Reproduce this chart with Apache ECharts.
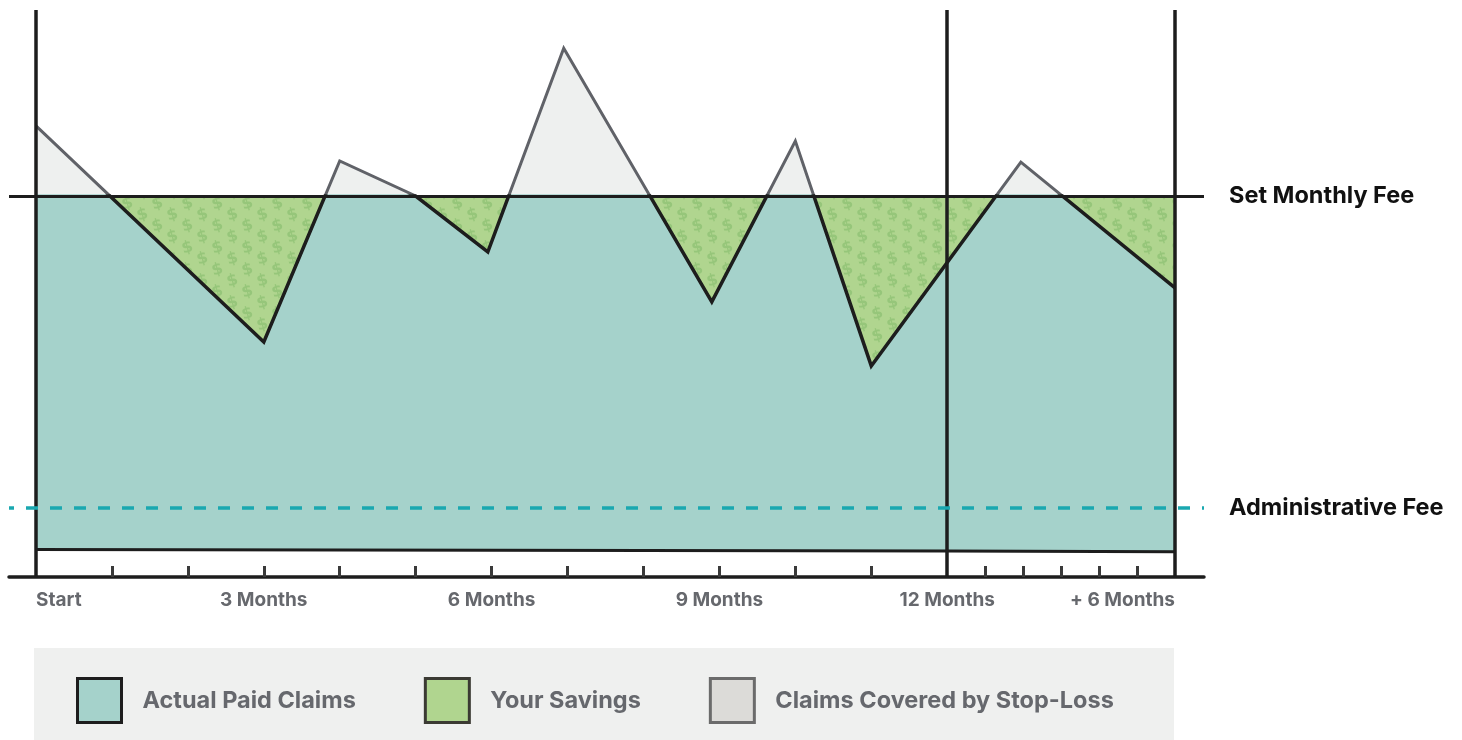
<!DOCTYPE html>
<html>
<head>
  <meta charset="utf-8">
  <title>Level funding: claims vs. set monthly fee</title>
  <script src="https://cdn.jsdelivr.net/npm/echarts@6/dist/echarts.min.js"></script>
  <style>
    html, body { margin: 0; padding: 0; background: #fff; }
    #chart { width: 1462px; height: 740px; }
  </style>
</head>
<body>
<div id="chart"></div>
<script>
  // x is a timeline position: 0..12 = the plan year (1 unit = 1 month),
  // 12..15 = the 6-month run-out, drawn at half scale (1 unit = 2 months)
  var claimX = [0, 3, 4, 5, 5.95, 6.95, 8.9, 10, 11, 12.97, 15];
  var claimY = [118.4, 61.7, 109.2, 100, 85.3, 138.8, 72.2, 114.4, 55.4, 108.9, 75.9];

  var monthlyFee = 100;
  var adminFee = 18.1;

  // bottom edge of the paid-claims block
  var baseX = [0, 12, 15];
  var baseY = [7.2, 6.8, 6.6];

  var dividers = [0, 12, 15];
  var tickValues = [1, 2, 3, 4, 5, 6, 7, 8, 9, 10, 11, 12.5, 13, 13.5, 14, 14.5];
  var labelValues = [0, 3, 6, 9, 12, 15];
  var labelText = ['Start', '3 Months', '6 Months', '9 Months', '12 Months', '+ 6 Months'];

  var legendNames = ['Actual Paid Claims', 'Your Savings', 'Claims Covered by Stop-Loss'];

  var FONT = 'Inter';
  var INK = '#1d1d1d';

  function pairs(xs, ys) {
    return xs.map(function (x, i) { return [x, ys[i]]; });
  }

  // green fill with little dollar signs
  function dollarTile() {
    var c = document.createElement('canvas');
    c.width = 30; c.height = 22;
    var g = c.getContext('2d');
    g.fillStyle = '#b0d58f';
    g.fillRect(0, 0, 30, 22);
    g.fillStyle = '#96c67a';
    g.font = 'bold 16px "DejaVu Sans"';
    g.textAlign = 'center';
    g.textBaseline = 'middle';
    [[7.5, 6], [22.5, 17], [22.5, -5], [7.5, 28]].forEach(function (p) {
      g.save();
      g.translate(p[0], p[1]);
      g.rotate(-0.28);
      g.fillText('$', 0, 0);
      g.restore();
    });
    return c;
  }

  var chart = echarts.init(document.getElementById('chart'));

  // grid 0 spans the full drawing incl. the overhanging guide lines (x 9..1204)
  // grid 1 is the box between Start and +6 Months, topped by the monthly fee,
  // so anything drawn in it is clipped at the fee line
  var pxPerUnit = (1175 - 36) / 15;
  var xMin = -(36 - 9) / pxPerUnit;
  var xMax = 15 + (1204 - 1175) / pxPerUnit;

  var option = {
    animation: false,
    graphic: [{
      type: 'rect', left: 34, top: 648, silent: true, z: 0,
      shape: { width: 1140, height: 92 },
      style: { fill: '#eff0ef' }
    }],
    grid: [
      { left: 9, right: 1462 - 1204, top: 10, bottom: 163 },
      { left: 36, right: 1462 - 1175, top: 196, bottom: 163 }
    ],
    xAxis: [{
      type: 'value', gridIndex: 0, min: xMin, max: xMax, z: 10,
      splitLine: { show: false },
      axisLine: { show: true, lineStyle: { color: INK, width: 3.5 } },
      axisTick: {
        show: true, inside: true, length: 11, customValues: tickValues,
        lineStyle: { color: '#3a3a3a', width: 3 }
      },
      axisLabel: {
        customValues: labelValues, margin: 14,
        alignMinLabel: 'left', alignMaxLabel: 'right',
        color: '#66686d', fontFamily: FONT, fontWeight: 'bold', fontSize: 19,
        formatter: function (v) { return labelText[labelValues.indexOf(v)]; }
      }
    }, {
      type: 'value', gridIndex: 1, min: 0, max: 15, show: false
    }],
    yAxis: [{
      type: 'value', gridIndex: 0, min: 0, max: 567 / (381 / monthlyFee), show: false
    }, {
      type: 'value', gridIndex: 1, min: 0, max: monthlyFee, show: false
    }],
    legend: {
      left: 76, top: 677, padding: 0, itemWidth: 44, itemHeight: 44, itemGap: 68,
      selectedMode: false,
      data: [
        { name: legendNames[0], icon: 'rect', itemStyle: { color: '#a5d2cb', borderColor: INK, borderWidth: 3 } },
        { name: legendNames[1], icon: 'rect', itemStyle: { color: '#b0d58f', borderColor: '#3b3a33', borderWidth: 3 } },
        { name: legendNames[2], icon: 'rect', itemStyle: { color: '#dcdbd8', borderColor: '#6b6b6b', borderWidth: 3 } }
      ],
      formatter: function (n) { return '{t|' + n + '}'; },
      textStyle: {
        rich: { t: { fontFamily: FONT, fontWeight: 'bold', fontSize: 23.5, color: '#66686d', padding: [0, 0, 0, 16] } }
      }
    },
    series: [{
      name: legendNames[2], type: 'line', xAxisIndex: 0, yAxisIndex: 0, z: 1,
      data: pairs(claimX, claimY), symbol: 'none', silent: true,
      lineStyle: { color: '#606268', width: 3, join: 'miter' },
      areaStyle: { color: '#eef0ef', opacity: 1, origin: 'start' }
    }, {
      name: legendNames[1], type: 'line', xAxisIndex: 1, yAxisIndex: 1, z: 2,
      data: [[0, monthlyFee], [15, monthlyFee]], symbol: 'none', silent: true,
      lineStyle: { width: 0, opacity: 0 },
      areaStyle: { color: { image: dollarTile(), repeat: 'repeat' }, opacity: 1, origin: 'start' }
    }, {
      name: legendNames[0], type: 'line', xAxisIndex: 1, yAxisIndex: 1, z: 3, clip: true,
      data: pairs(claimX, claimY), symbol: 'none', silent: true,
      lineStyle: { color: INK, width: 3.5, join: 'miter' },
      areaStyle: { color: '#a5d2cb', opacity: 1, origin: 'start' }
    }, {
      name: 'base', type: 'line', xAxisIndex: 0, yAxisIndex: 0, z: 4,
      data: pairs(baseX, baseY), symbol: 'none', silent: true,
      lineStyle: { color: INK, width: 3 },
      areaStyle: { color: '#ffffff', opacity: 1, origin: 'start' }
    }, {
      name: 'guides', type: 'line', xAxisIndex: 0, yAxisIndex: 0, z: 6,
      data: [], silent: true,
      markLine: {
        silent: true, symbol: 'none', animation: false,
        data: dividers.map(function (d) {
          return { xAxis: d, label: { show: false }, lineStyle: { color: INK, width: 3.5, type: 'solid' } };
        }).concat([{
          yAxis: monthlyFee,
          lineStyle: { color: INK, width: 3, type: 'solid' },
          label: {
            show: true, position: 'end', distance: 25, formatter: 'Set Monthly Fee',
            color: '#111', fontFamily: FONT, fontWeight: 'bold', fontSize: 23.5
          }
        }, {
          yAxis: adminFee,
          lineStyle: { color: '#1aa8b0', width: 3.5, type: [12, 12], dashOffset: 7 },
          label: {
            show: true, position: 'end', distance: 25, formatter: 'Administrative Fee',
            color: '#111', fontFamily: FONT, fontWeight: 'bold', fontSize: 23.5
          }
        }])
      }
    }]
  };

  chart.setOption(option);
</script>
</body>
</html>
